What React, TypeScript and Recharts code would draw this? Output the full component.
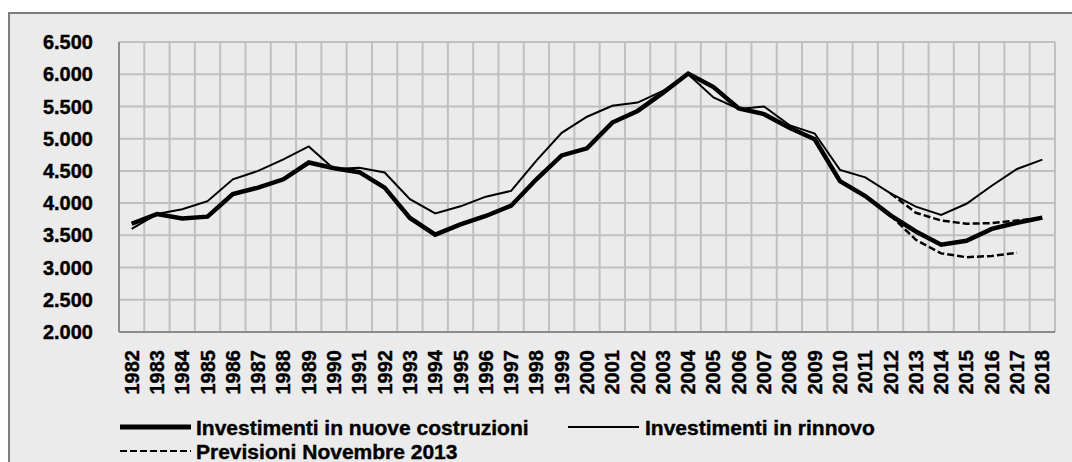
import React from 'react';
import { LineChart, Line, XAxis, YAxis, CartesianGrid, Legend } from 'recharts';

const years = ['1982','1983','1984','1985','1986','1987','1988','1989','1990','1991','1992','1993','1994','1995','1996','1997','1998','1999','2000','2001','2002','2003','2004','2005','2006','2007','2008','2009','2010','2011','2012','2013','2014','2015','2016','2017','2018'];

const nuoveCostruzioni = [3680,3830,3760,3790,4140,4240,4370,4630,4540,4480,4240,3770,3510,3670,3800,3960,4370,4740,4850,5250,5430,5710,6010,5800,5470,5380,5170,4990,4340,4110,3810,3560,3355,3415,3600,3695,3775];
const rinnovo = [3600,3830,3905,4030,4370,4500,4680,4880,4530,4550,4475,4060,3840,3950,4100,4190,4660,5090,5340,5510,5560,5740,6000,5640,5460,5500,5210,5080,4515,4400,4150,3945,3815,3990,4270,4530,4675];

const previsioniYearsA = ['2012','2013','2014','2015','2016','2017','2018'];
const previsioniRinnovo = [4150,3850,3730,3680,3690,3730,3770];
const previsioniYearsB = ['2012','2013','2014','2015','2016','2017'];
const previsioniNuove = [3810,3430,3220,3160,3180,3230];

const yTicks = [2000,2500,3000,3500,4000,4500,5000,5500,6000,6500];

const legendLabels = ['Investimenti in nuove costruzioni','Investimenti in rinnovo','Previsioni Novembre 2013'];

const data = years.map((y, i) => {
  const ia = previsioniYearsA.indexOf(y);
  const ib = previsioniYearsB.indexOf(y);
  return {
    year: y,
    nuove: nuoveCostruzioni[i],
    rinnovo: rinnovo[i],
    prevR: ia >= 0 ? previsioniRinnovo[ia] : null,
    prevN: ib >= 0 ? previsioniNuove[ib] : null,
  };
});

const FONT = '"Liberation Sans", Arial, sans-serif';

const fmt = (v: number) => String(v).replace(/\B(?=(\d{3})+(?!\d))/g, '.');

const XTick = (props: any) => {
  const { x, y, payload } = props;
  return (
    <g transform={`translate(${x},${y})`}>
      <text
        transform="rotate(-90)"
        x={-16}
        y={0}
        textAnchor="end"
        dominantBaseline="central"
        fontFamily={FONT}
        fontWeight="bold"
        fontSize={20}
        fill="#000"
        stroke="#000"
        strokeWidth={0.4}
      >
        {payload.value}
      </text>
    </g>
  );
};

const legendTextProps = {
  dominantBaseline: 'central' as const,
  fontFamily: FONT,
  fontWeight: 'bold',
  fontSize: 21,
  fill: '#000',
  stroke: '#000',
  strokeWidth: 0.4,
};

const LegendContent = () => (
  <svg width={1040} height={50} style={{ display: 'block' }}>
    <line x1={120} x2={191} y1={15} y2={15} stroke="#000" strokeWidth={5} />
    <text x={196} y={15} {...legendTextProps}>{legendLabels[0]}</text>
    <line x1={568} x2={639} y1={15} y2={15} stroke="#000" strokeWidth={2} />
    <text x={645} y={15} {...legendTextProps}>{legendLabels[1]}</text>
    <line x1={120} x2={191} y1={39} y2={39} stroke="#000" strokeWidth={2} strokeDasharray="7 3" />
    <text x={196} y={39} {...legendTextProps}>{legendLabels[2]}</text>
  </svg>
);

export default function App() {
  return (
    <div style={{ position: 'relative', width: 1072, height: 462, overflow: 'hidden', background: '#fff' }}>
      <style>{`body{margin:0;overflow:hidden}`}</style>
      <div style={{ position: 'absolute', left: 8, top: 12, width: 1100, height: 500, border: '2px solid #7f7f7f', background: '#ebebeb', boxSizing: 'border-box' }} />
      <div style={{ position: 'absolute', left: 0, top: 0 }}>
        <LineChart width={1072} height={462} data={data} margin={{ top: 42, right: 17, bottom: 0, left: 0 }}>
          <CartesianGrid
            stroke="#c0c0c0"
            strokeWidth={2}
            verticalCoordinatesGenerator={({ offset }: any) => {
              const n = years.length;
              const arr: number[] = [];
              for (let i = 0; i <= n; i++) arr.push(offset.left + (i * offset.width) / n);
              return arr;
            }}
          />
          <XAxis
            dataKey="year"
            scale="band"
            interval={0}
            height={80}
            tickLine={false}
            tickSize={0}
            axisLine={{ stroke: '#8c8c8c', strokeWidth: 2 }}
            tick={<XTick />}
          />
          <YAxis
            width={119}
            domain={[2000, 6500]}
            ticks={yTicks}
            interval={0}
            tickLine={false}
            tickSize={0}
            tickMargin={26}
            axisLine={{ stroke: '#8c8c8c', strokeWidth: 2 }}
            tickFormatter={fmt}
            tick={{ fill: '#000', stroke: '#000', strokeWidth: 0.4, fontSize: 20, fontWeight: 'bold', fontFamily: FONT }}
          />
          <Legend verticalAlign="bottom" height={50} content={<LegendContent />} />
          <Line type="linear" dataKey="rinnovo" stroke="#000" strokeWidth={2} dot={false} isAnimationActive={false} />
          <Line type="linear" dataKey="prevR" stroke="#000" strokeWidth={2.5} strokeDasharray="7 3" dot={false} isAnimationActive={false} />
          <Line type="linear" dataKey="prevN" stroke="#000" strokeWidth={2.5} strokeDasharray="7 3" dot={false} isAnimationActive={false} />
          <Line type="linear" dataKey="nuove" stroke="#000" strokeWidth={4.5} dot={false} isAnimationActive={false} />
        </LineChart>
      </div>
    </div>
  );
}
